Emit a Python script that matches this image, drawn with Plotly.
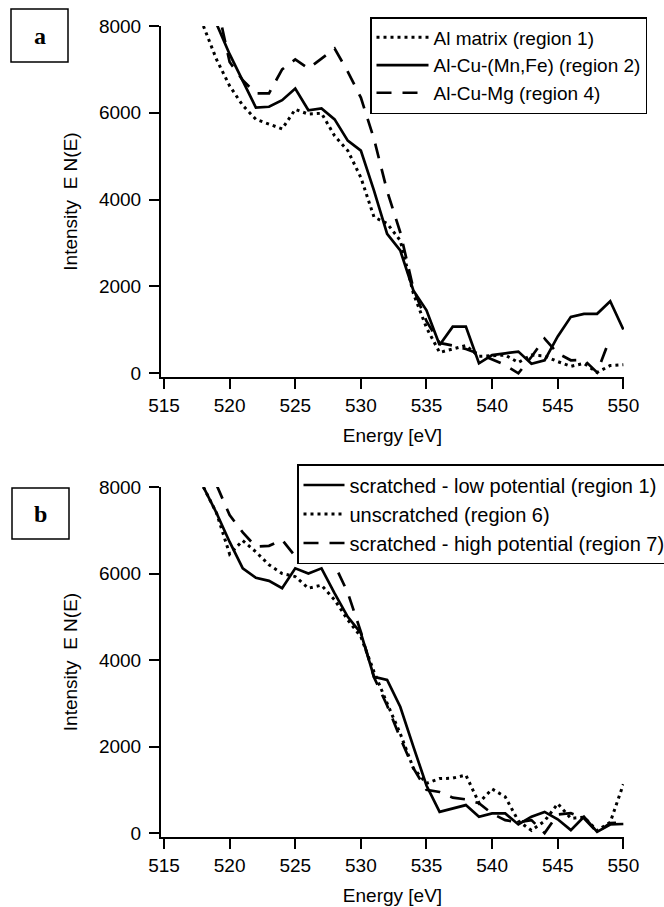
import plotly.graph_objects as go

# ---------------- data ----------------
energy = list(range(518, 551))

# panel a
a_matrix = [8000, 7230, 6620, 6170, 5850, 5740, 5630, 6080, 5970, 5990, 5470, 5130, 4510,
            3600, 3450, 3060, 1840, 1050, 480, 560, 640, 390, 400, 420, 250, 420, 400, 270,
            160, 230, 20, 180, 200]
a_mnfe = [9200, 8050, 7350, 6750, 6120, 6140, 6290, 6560, 6060, 6100, 5850, 5360, 5130,
          4210, 3210, 2830, 1910, 1450, 650, 1076, 1076, 231, 420, 460, 500, 220, 300, 850,
          1300, 1370, 1370, 1660, 1010]
a_mg = [None, 8550, 7170, 6750, 6450, 6450, 7000, 7230, 7020, 7250, 7480, 6950, 6350,
        5400, 4200, 3250, 1950, 1200, 700, 640, 560, 450, 320, 190, 0, 380, 800, 460,
        300, 310, 20, 820, None]

# panel b
b_low = [8000, 7400, 6730, 6120, 5900, 5830, 5660, 6120, 6000, 6120, 5540, 5000, 4620,
         3610, 3540, 2920, 2000, 1100, 490, 570, 647, 377, 455, 455, 200, 380, 490, 320,
         70, 377, 30, 200, 210]
b_unscr = [8000, 7400, 6450, 6760, 6500, 6200, 6000, 5930, 5660, 5730, 5390, 4930, 4540,
           3730, 3000, 2300, 1500, 1150, 1260, 1270, 1340, 700, 1020, 840, 280, 60, 280, 680,
           340, 370, 60, 250, 1130]
b_high = [None, 8050, 7350, 6950, 6620, 6640, 6780, 6400, 6460, 6620, 6200, 5560, 4650,
          3600, 2950, 2200, 1500, 1000, 950, 820, 780, 690, 450, 300, 250, 300, 0, 430,
          460, 340, 20, 230, 250]

x_ticks = [515, 520, 525, 530, 535, 540, 545, 550]
y_ticks = [0, 2000, 4000, 6000, 8000]

# ---------------- layout helpers ----------------
W, H = 664, 907
ML, MR, MT, MB = 161, 40, 26, 70
PW, PH = W - ML - MR, H - MT - MB


def xp(px):
    return (px - ML) / PW


def yp(py):
    return (H - MB - py) / PH


FONT = "Liberation Sans, Arial, sans-serif"
DOT = "3px,4px"
DASH = "15px,11px"
LW = 2.7

fig = go.Figure()

fig.add_trace(go.Scatter(x=energy, y=a_matrix, mode="lines", name="Al matrix (region 1)",
                         line=dict(color="black", width=LW + 0.3, dash=DOT),
                         xaxis="x", yaxis="y", legend="legend"))
fig.add_trace(go.Scatter(x=energy, y=a_mnfe, mode="lines", name="Al-Cu-(Mn,Fe) (region 2)",
                         line=dict(color="black", width=LW),
                         xaxis="x", yaxis="y", legend="legend"))
fig.add_trace(go.Scatter(x=energy, y=a_mg, mode="lines", name="Al-Cu-Mg (region 4)",
                         line=dict(color="black", width=LW, dash=DASH),
                         xaxis="x", yaxis="y", legend="legend"))

fig.add_trace(go.Scatter(x=energy, y=b_low, mode="lines",
                         name="scratched - low potential (region 1)",
                         line=dict(color="black", width=LW),
                         xaxis="x2", yaxis="y2", legend="legend2"))
fig.add_trace(go.Scatter(x=energy, y=b_unscr, mode="lines", name="unscratched (region 6)",
                         line=dict(color="black", width=LW + 0.3, dash=DOT),
                         xaxis="x2", yaxis="y2", legend="legend2"))
fig.add_trace(go.Scatter(x=energy, y=b_high, mode="lines",
                         name="scratched - high potential (region 7)",
                         line=dict(color="black", width=LW, dash=DASH),
                         xaxis="x2", yaxis="y2", legend="legend2"))

axis_common = dict(showline=True, linecolor="black", linewidth=2, ticks="outside",
                   ticklen=10, tickwidth=2, tickcolor="black", showgrid=False,
                   zeroline=False, tickfont=dict(family=FONT, size=19, color="black"),
                   title_font=dict(family=FONT, size=19, color="black"))

xrange = [514.77, 550.05]

fig.update_layout(
    width=W, height=H,
    margin=dict(l=ML, r=MR, t=MT, b=MB, pad=0, autoexpand=False),
    paper_bgcolor="white", plot_bgcolor="white",
    xaxis=dict(axis_common, domain=[0, 1], anchor="y", range=xrange, tickvals=x_ticks,
               title=dict(text="Energy [eV]", standoff=14)),
    yaxis=dict(axis_common, domain=[yp(377), 1], anchor="x", range=[-85, 8000],
               tickvals=y_ticks, ticklabelstandoff=4,
               title=dict(text="Intensity\u00a0 E N(E)", standoff=16)),
    xaxis2=dict(axis_common, domain=[0, 1], anchor="y2", range=xrange, tickvals=x_ticks,
                title=dict(text="Energy [eV]", standoff=14)),
    yaxis2=dict(axis_common, domain=[0, yp(487)], anchor="x2", range=[-90, 8000],
                tickvals=y_ticks, ticklabelstandoff=4,
                title=dict(text="Intensity\u00a0 E N(E)", standoff=16)),
    legend=dict(x=xp(370), y=yp(17), xanchor="left", yanchor="top",
                bordercolor="black", borderwidth=1.5, bgcolor="white",
                font=dict(family=FONT, size=19, color="black"), itemwidth=52,
                tracegroupgap=0),
    legend2=dict(x=xp(297), y=yp(464), xanchor="left", yanchor="top",
                 bordercolor="black", borderwidth=1.5, bgcolor="white",
                 font=dict(family=FONT, size=20, color="black"), itemwidth=41,
                 tracegroupgap=0),
    showlegend=True,
)

# panel label boxes
for lab, (x0, y0, x1, y1) in {"a": (11, 9, 68, 62), "b": (12, 488, 69, 539)}.items():
    fig.add_shape(type="rect", xref="paper", yref="paper",
                  x0=xp(x0), x1=xp(x1), y0=yp(y1), y1=yp(y0),
                  line=dict(color="black", width=1.5), fillcolor="white")
    fig.add_annotation(text="<b>%s</b>" % lab, xref="paper", yref="paper",
                       x=xp((x0 + x1) / 2), y=yp((y0 + y1) / 2), showarrow=False,
                       xanchor="center", yanchor="middle",
                       font=dict(family="Liberation Serif, Times New Roman, serif",
                                 size=24, color="black"))

fig.write_html("out.html")
